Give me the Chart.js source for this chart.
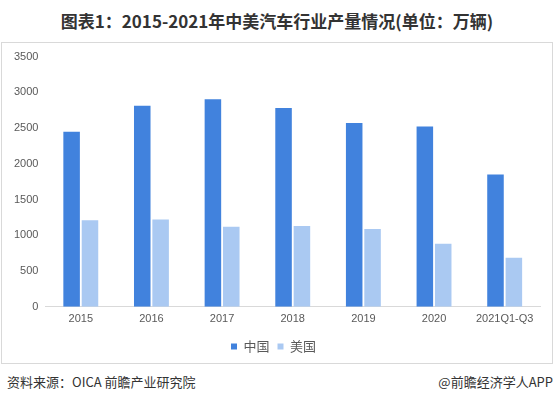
<!DOCTYPE html>
<html>
<head>
<meta charset="utf-8">
<script src="https://cdn.jsdelivr.net/npm/chart.js@4"></script>
<style>
	body { margin: 0; background: #fff; width: 554px; height: 404px; position: relative; overflow: hidden; font-family: "Noto Sans CJK SC", "Noto Sans", sans-serif; }
	#title { position: absolute; left: 0; top: 8px; width: 554px; line-height: 25px; text-align: center; font-size: 17px; font-weight: bold; color: #333; }
	#box { position: absolute; left: 1px; top: 42px; width: 550px; height: 320px; border: 1px solid #d9d9d9; }
	#src { position: absolute; left: 7px; top: 372px; line-height: 20px; font-size: 13px; color: #333; }
	#app { position: absolute; right: 1px; top: 372px; line-height: 20px; font-size: 13px; color: #333; }
</style>
</head>
<body>
<div id="title">图表1：2015-2021年中美汽车行业产量情况(单位：万辆)</div>
<div id="box"><canvas id="myChart" width="550" height="320"></canvas></div>
<div id="src">资料来源：OICA 前瞻产业研究院</div>
<div id="app">@前瞻经济学人APP</div>
<script>
// categorias y series
const labels_n = ["2015", "2016", "2017", "2018", "2019", "2020", "2021Q1-Q3"];
const data_china = [2450, 2812, 2902, 2781, 2572, 2523, 1850];
const data_usa = [1210, 1220, 1119, 1130, 1088, 882, 686];
const y_ticks = [0, 500, 1000, 1500, 2000, 2500, 3000, 3500];

const ctx = document.getElementById("myChart").getContext("2d");
let myChart = new Chart(ctx, {
	type: "bar",
	data: {
		labels: labels_n,
		datasets: [
			{
				label: "中国",
				data: data_china,
				backgroundColor: "#4182dd",
				categoryPercentage: 0.52,
				barPercentage: 0.9,
			},
			{
				label: "美国",
				data: data_usa,
				backgroundColor: "#aac9f2",
				categoryPercentage: 0.52,
				barPercentage: 0.9,
			},
		],
	},
	options: {
		responsive: false,
		animation: false,
		layout: { padding: { left: 5, right: 12, top: 7, bottom: 0 } },
		plugins: {
			legend: {
				position: "bottom",
				labels: {
					boxWidth: 6,
					boxHeight: 6,
					padding: 8,
					color: "#595959",
					font: { size: 13, family: "Noto Sans CJK SC" },
				},
			},
			tooltip: { enabled: false },
		},
		scales: {
			x: {
				grid: { display: false, drawTicks: false },
				border: { color: "#d9d9d9" },
				ticks: { color: "#595959", padding: 6, font: { size: 11, family: "Liberation Sans" }, maxRotation: 0 },
			},
			y: {
				min: 0,
				max: 3500,
				afterBuildTicks: (axis) => { axis.ticks = y_ticks.map((v) => ({ value: v })); },
				grid: { display: false, drawTicks: false },
				border: { display: false },
				ticks: { color: "#595959", padding: 7, font: { size: 11, family: "Liberation Sans" }, callback: (v) => String(v) },
			},
		},
	},
});
</script>
</body>
</html>
